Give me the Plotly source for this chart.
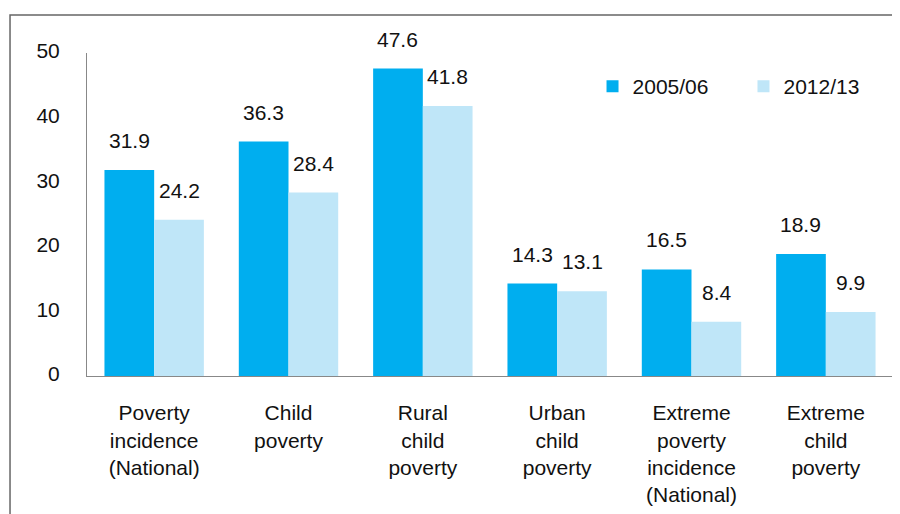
import plotly.graph_objects as go

categories = ["Poverty<br>incidence<br>(National)", "Child<br>poverty", "Rural<br>child<br>poverty",
              "Urban<br>child<br>poverty", "Extreme<br>poverty<br>incidence<br>(National)",
              "Extreme<br>child<br>poverty"]
series_names = ["2005/06", "2012/13"]
values_2005 = [31.9, 36.3, 47.6, 14.3, 16.5, 18.9]
values_2012 = [24.2, 28.4, 41.8, 13.1, 8.4, 9.9]
y_ticks = [0, 10, 20, 30, 40, 50]

colors = ["#00AEEF", "#BFE6F8"]
FONT = "Liberation Sans, Arial, sans-serif"
TXT = "#111111"

fig = go.Figure()
for name, vals, col, lg in zip(series_names, [values_2005, values_2012], colors, ["legend", "legend2"]):
    fig.add_trace(go.Bar(x=categories, y=vals, name=name, legend=lg,
                         marker=dict(color=col, line=dict(width=0))))

# value labels above bars
for vals, shift in [(values_2005, -25), (values_2012, 25)]:
    for c, v in zip(categories, vals):
        fig.add_annotation(x=c, y=v, text=f"{v:.1f}", showarrow=False, xshift=shift,
                           yanchor="bottom", yshift=16,
                           font=dict(family=FONT, size=21, color=TXT))

# outer frame
fig.add_shape(type="rect", xref="paper", yref="paper", x0=-0.0955, x1=1.2, y0=-0.6, y1=1.1176,
              line=dict(color="#666666", width=1.5), layer="below")

legend_common = dict(orientation="h", xanchor="left", y=0.8963, yanchor="middle",
                     font=dict(family=FONT, size=21, color=TXT), bgcolor="rgba(0,0,0,0)")

fig.update_layout(
    width=892, height=506,
    margin=dict(l=79, r=7, t=45, b=138),
    plot_bgcolor="white", paper_bgcolor="white",
    barmode="group", bargap=0.26, bargroupgap=0,
    font=dict(family=FONT, size=21, color=TXT),
    showlegend=True,
    legend=dict(x=0.6272, **legend_common),
    legend2=dict(x=0.8145, **legend_common),
    xaxis=dict(showline=True, linecolor="#888888", linewidth=1, ticks="", showgrid=False,
               tickfont=dict(family=FONT, size=21, color=TXT), ticklabelstandoff=18),
    yaxis=dict(range=[0, 50], tickvals=y_ticks, showline=True, linecolor="#888888", linewidth=1,
               ticks="", showgrid=False, zeroline=False, ticklabelshift=-2,
               tickfont=dict(family=FONT, size=21, color=TXT), ticklabelstandoff=22),
)

fig.write_html("out.html")
